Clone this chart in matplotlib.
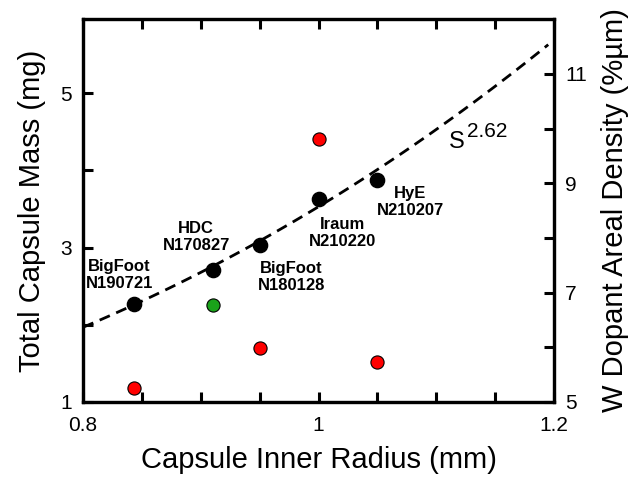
import numpy as np
import matplotlib
matplotlib.use('Agg')
import matplotlib.pyplot as plt

plt.rcParams['font.family'] = ['Liberation Sans', 'DejaVu Sans']

# capsule inner radius (mm) and total mass (mg), black points
radius = [0.843, 0.91, 0.95, 1.0, 1.05]
mass = [2.27, 2.71, 3.03, 3.63, 3.87]
shots = ['BigFoot\nN190721', 'HDC\nN170827', 'BigFoot\nN180128', 'Iraum\nN210220', 'HyE\nN210207']
# W dopant areal density (%um), right axis
dop_radius = [0.843, 0.95, 1.0, 1.05]
dopant = [5.25, 5.98, 9.8, 5.73]
hdc_radius = [0.91]
hdc_dopant = [6.78]
# power-law fit  m ~ r^2.62
fit_coef = 3.53
fit_exp = 2.62
fit_r = np.linspace(0.8, 1.195, 100)

# label positions (x, y) in data coords
label_pos = [(0.831, 2.64), (0.896, 3.14), (0.977, 2.62), (1.020, 3.19), (1.078, 3.59)]

fig = plt.figure(figsize=(6.34, 4.79), dpi=100)
ax = fig.add_axes([0.131, 0.161, 0.743, 0.799])
ax2 = ax.twinx()

ax.plot(fit_r, fit_coef * fit_r**fit_exp, color='black', lw=2, dashes=(4, 2.5))
ax.scatter(radius, mass, s=105, color='black', zorder=3)
ax2.scatter(dop_radius, dopant, s=90, color='red', edgecolor='black', linewidth=0.8, zorder=3)
ax2.scatter(hdc_radius, hdc_dopant, s=90, color='#1aa31a', edgecolor='black', linewidth=0.8, zorder=3)

for txt, (tx, ty) in zip(shots, label_pos):
    ax.text(tx, ty, txt, ha='center', va='center', fontsize=12, fontweight='bold', linespacing=1.15)

ax.text(1.111, 4.37, 'S', ha='left', va='center', fontsize=17)
ax.text(1.126, 4.50, '2.62', ha='left', va='center', fontsize=15)

ax.set_xlim(0.8, 1.2)
ax.set_ylim(1, 5.96)
ax2.set_ylim(5, 12)
ax.set_xticks([0.8, 1.0, 1.2])
ax.set_xticklabels(['0.8', '1', '1.2'])
ax.set_xticks(np.arange(0.85, 1.2, 0.05), minor=True)
ax.set_yticks([1, 3, 5])
ax.set_yticks([2, 4], minor=True)
ax2.set_yticks([5, 7, 9, 11])
ax2.set_yticks([6, 8, 10], minor=True)

for a in (ax, ax2):
    for sp in a.spines.values():
        sp.set_linewidth(2.3)
    a.tick_params(which='both', direction='in', length=7, width=2.2, labelsize=15, pad=8)
ax.tick_params(which='both', top=True)
ax.tick_params(axis='x', pad=10)

ax.set_xlabel('Capsule Inner Radius (mm)', fontsize=21, labelpad=8)
ax.set_ylabel('Total Capsule Mass (mg)', fontsize=21, labelpad=10)
ax2.set_ylabel('W Dopant Areal Density (%µm)', fontsize=21, labelpad=10)

fig.savefig('out.png', dpi=100)
